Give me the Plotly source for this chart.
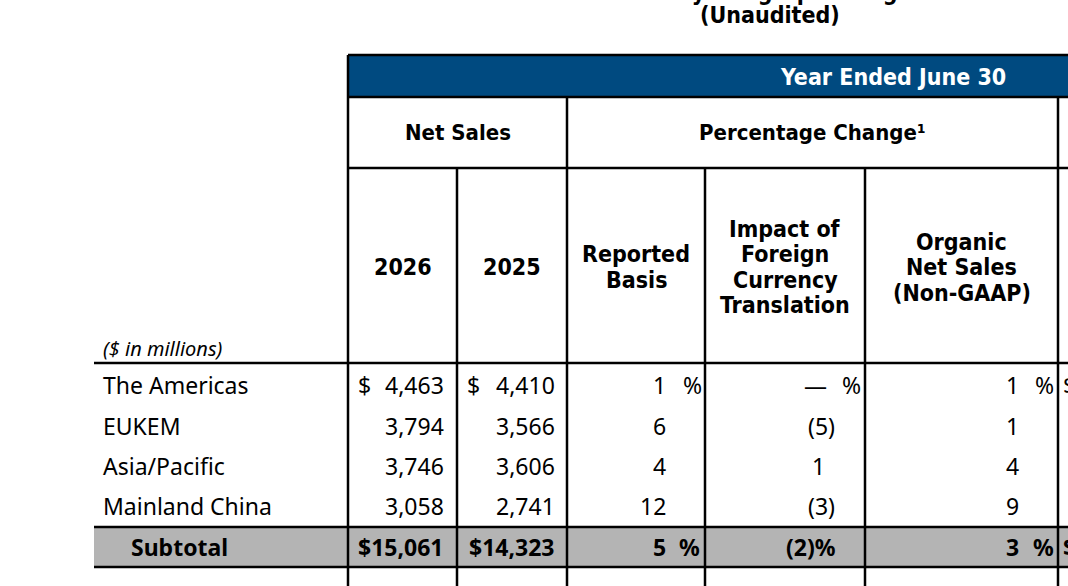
import plotly.graph_objects as go

# ---------------- data ----------------
regions = ["The Americas", "EUKEM", "Asia/Pacific", "Mainland China"]
net_sales_2026 = [4463, 3794, 3746, 3058]
net_sales_2025 = [4410, 3566, 3606, 2741]
reported_basis = [1, 6, 4, 12]
fx_impact = [0, -5, 1, -3]
organic = [1, 1, 4, 9]
subtotal_label = "Subtotal"
subtotal_2026 = 15061
subtotal_2025 = 14323
subtotal_reported = 5
subtotal_fx = -2
subtotal_organic = 3
year_labels = ["2026", "2025"]

# ---------------- layout geometry (pixels of the window) ----------------
W, H = 1068, 586
BLUE = "#004a80"
GRAY = "#b4b4b4"
LW = 2.5
HEAD_FONT = "Liberation Sans Narrow, DejaVu Sans Condensed, Arial Narrow, sans-serif"
BODY_FONT = "Noto Sans, Lato, sans-serif"

col_edges = [348, 457, 567, 705, 865, 1058]
y_top, y_band_bot, y_h2_bot, y_h3_bot = 55, 97, 168, 363
row_centers = [385, 426, 466, 506]
y_sub_top, y_sub_bot = 527, 567
sub_center = 547
left_x = 94

shapes = []
annotations = []


def line(x0, y0, x1, y1, w=LW):
    shapes.append(dict(type="line", xref="x", yref="y", x0=x0, y0=y0, x1=x1, y1=y1,
                       line=dict(color="black", width=w)))


def rect(x0, y0, x1, y1, color):
    shapes.append(dict(type="rect", xref="x", yref="y", x0=x0, y0=y0, x1=x1, y1=y1,
                       fillcolor=color, line=dict(width=0), layer="below"))


def text(x, y, s, size=23, family=BODY_FONT, color="black", xanchor="center",
         yanchor="middle", bold=False, italic=False):
    if bold:
        s = "<b>" + s + "</b>"
    if italic:
        s = "<i>" + s + "</i>"
    annotations.append(dict(x=x, y=y, xref="x", yref="y", text=s, showarrow=False,
                            xanchor=xanchor, yanchor=yanchor,
                            font=dict(size=size, family=family, color=color)))


# fills
rect(col_edges[0], y_top, W + 5, y_band_bot, BLUE)
rect(left_x, y_sub_top, W + 5, y_sub_bot, GRAY)

# horizontal rules
line(col_edges[0], y_top, W + 5, y_top)
line(col_edges[0], y_band_bot, W + 5, y_band_bot)
line(col_edges[0], y_h2_bot, W + 5, y_h2_bot)
line(left_x, y_h3_bot, W + 5, y_h3_bot)
line(left_x, y_sub_top, W + 5, y_sub_top)
line(left_x, y_sub_bot, W + 5, y_sub_bot)

# vertical rules
line(col_edges[0], y_top, col_edges[0], H + 5)
for xe in col_edges[1:]:
    ystart = y_band_bot if xe in (567, 1058) else y_h2_bot
    line(xe, ystart, xe, H + 5)

# titles (first title line is mostly above the visible area)
text(557, 7, "Net Sales by Geographic Region", size=23, family=HEAD_FONT,
     xanchor="left", yanchor="bottom", bold=True)
text(770, 15, "(Unaudited)", size=23, family=HEAD_FONT, bold=True)
text(1008, 77, "Year Ended June 30", size=23, family=HEAD_FONT, color="white",
     xanchor="right", bold=True)
text((col_edges[0] + col_edges[2]) / 2, 132, "Net Sales", size=22, family=HEAD_FONT, bold=True)
text((col_edges[2] + col_edges[5]) / 2, 132, "Percentage Change¹", size=22,
     family=HEAD_FONT, bold=True)

# column header lines
headers = [
    (year_labels[0], 0),
    (year_labels[1], 1),
    ("Reported<br>Basis", 2),
    ("Impact of<br>Foreign<br>Currency<br>Translation", 3),
    ("Organic<br>Net Sales<br>(Non-GAAP)", 4),
]
hdr_mid = 267
hdr_step = 25.5
for label, ci in headers:
    parts = label.split("<br>")
    cx = (col_edges[ci] + col_edges[ci + 1]) / 2
    n = len(parts)
    for k, p in enumerate(parts):
        yy = hdr_mid + (k - (n - 1) / 2) * hdr_step
        text(cx, yy, p, size=23, family=HEAD_FONT, bold=True)

text(101, 348, "($ in millions)", size=20, xanchor="left", italic=True)


def fmt_money(v):
    return f"{v:,}"


def put_pct(v, right_x, paren_w, pct_right, y, show_pct, bold, dash=False):
    if dash:
        s, rx = "—", right_x + 2
    elif v < 0:
        s, rx = f"({abs(v)})", right_x + paren_w
    else:
        s, rx = f"{v}", right_x
    text(rx, y, s, xanchor="right", bold=bold)
    if show_pct:
        text(pct_right, y, "%", xanchor="right", bold=bold)


# data rows
for i, reg in enumerate(regions):
    y = row_centers[i]
    first = i == 0
    text(101, y, reg, xanchor="left")
    if first:
        text(356, y, "$", xanchor="left")
        text(465, y, "$", xanchor="left")
        text(1061, y, "$", xanchor="left")
    text(446, y, fmt_money(net_sales_2026[i]), xanchor="right")
    text(557, y, fmt_money(net_sales_2025[i]), xanchor="right")
    put_pct(reported_basis[i], 668, 9, 704, y, first, False)
    put_pct(fx_impact[i], 827, 10, 863, y, first, False, dash=(fx_impact[i] == 0))
    put_pct(organic[i], 1021, 9, 1056, y, first, False)

# subtotal row
y = sub_center
text(129, y, subtotal_label, xanchor="left", bold=True)
text(446, y, "$" + fmt_money(subtotal_2026), xanchor="right", bold=True)
text(557, y, "$" + fmt_money(subtotal_2025), xanchor="right", bold=True)
put_pct(subtotal_reported, 668, 9, 702, y, True, True)
text(838, y, f"({abs(subtotal_fx)})%", xanchor="right", bold=True)
put_pct(subtotal_organic, 1021, 9, 1056, y, True, True)
text(1061, y, "$", xanchor="left", bold=True)

fig = go.Figure()
fig.add_trace(go.Scatter(x=[0, W], y=[0, H], mode="markers",
                         marker=dict(opacity=0), hoverinfo="skip", showlegend=False))
fig.update_layout(
    width=W, height=H,
    margin=dict(l=0, r=0, t=0, b=0),
    paper_bgcolor="white", plot_bgcolor="white",
    xaxis=dict(range=[0, W], visible=False, fixedrange=True),
    yaxis=dict(range=[H, 0], visible=False, fixedrange=True),
    shapes=shapes, annotations=annotations,
    showlegend=False,
)
fig.write_html(
    "out.html",
    config={"displayModeBar": False},
    post_script="document.body.style.margin='0';document.body.style.overflow='hidden';",
)
